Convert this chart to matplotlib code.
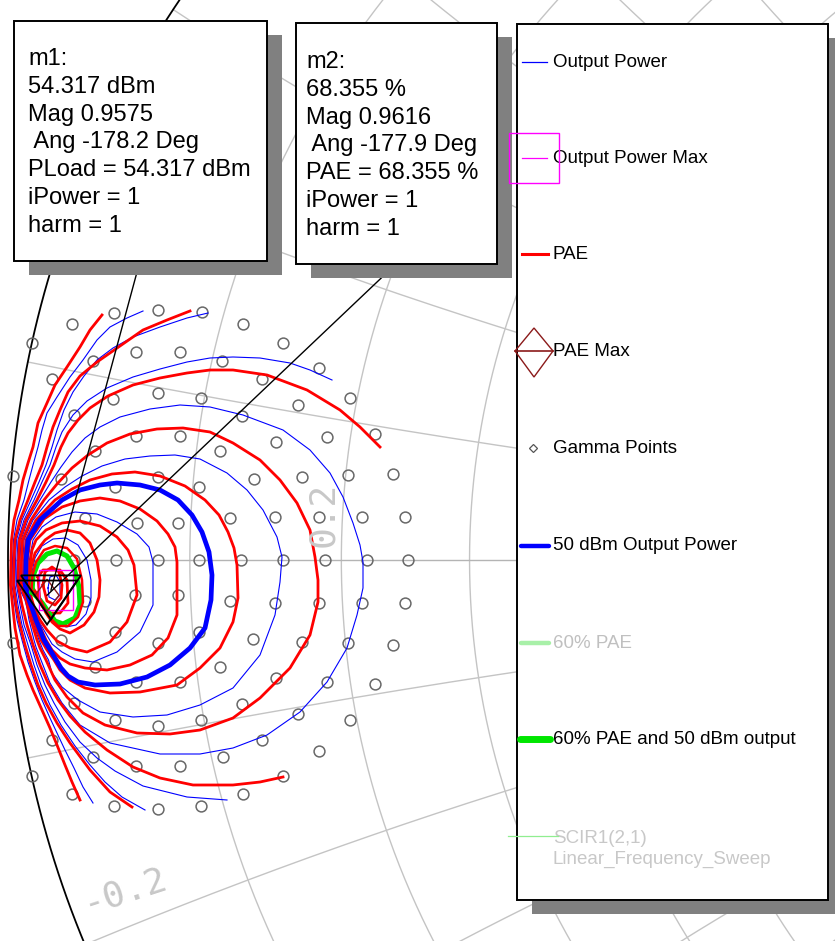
import numpy as np
import matplotlib
matplotlib.use("Agg")
import matplotlib.pyplot as plt
from matplotlib.patches import Rectangle, Polygon

plt.rcParams['font.family'] = ['Liberation Sans', 'DejaVu Sans']

# ---------------- data (reflection coefficient: real, imag) ----------------
r_grid = [0.1, 0.2, 0.3, 0.4, 0.5, 0.6, 0.7, 0.8, 0.9, 1.0]
x_grid = [0.1, 0.2, 0.3, 0.4, 0.5, 0.6, 0.7, 0.8, 0.9, 1.0]

m1_mag, m1_ang = 0.9575, -178.2
m2_mag, m2_ang = 0.9616, -177.9
m1_lines = ['m1:', '54.317 dBm', 'Mag 0.9575', ' Ang -178.2 Deg',
            'PLoad = 54.317 dBm', 'iPower = 1', 'harm = 1']
m2_lines = ['m2:', '68.355 %', 'Mag 0.9616', ' Ang -177.9 Deg',
            'PAE = 68.355 %', 'iPower = 1', 'harm = 1']

gamma_re = [-0.894, -0.850, -0.806, -0.936, -0.765, -0.976, -0.725, -0.872, -0.828,
            -0.915, -0.786, -0.689, -0.956, -0.746, -0.895, -0.850, -0.807, -0.710,
            -0.658, -0.934, -0.766, -0.633, -0.872, -0.828, -0.732, -0.681, -0.913,
            -0.788, -0.995, -0.947, -0.850, -0.754, -0.706, -0.660, -0.615, -0.893,
            -0.809, -0.923, -0.871, -0.830, -0.778, -0.733, -0.689, -0.646, -0.603,
            -0.934, -0.892, -0.850, -0.809, -0.767, -0.725, -0.683, -0.641, -0.600,
            -0.923, -0.873, -0.830, -0.778, -0.733, -0.689, -0.646, -0.603,
            -0.995, -0.947, -0.893, -0.850, -0.809, -0.755, -0.706, -0.660, -0.615,
            -0.913, -0.788, -0.872, -0.828, -0.732, -0.681, -0.633, -0.934, -0.766,
            -0.893, -0.850, -0.807, -0.710, -0.658, -0.956, -0.746, -0.915, -0.785,
            -0.689, -0.872, -0.828, -0.976, -0.725, -0.936, -0.765, -0.894, -0.850, -0.807]
gamma_im = [0.247, 0.250, 0.248, 0.236, 0.236, 0.217, 0.217, 0.208, 0.208,
            0.199, 0.199, 0.192, 0.181, 0.181, 0.161, 0.167, 0.162, 0.155,
            0.162, 0.145, 0.144, 0.126, 0.124, 0.124, 0.118, 0.123, 0.109,
            0.109, 0.084, 0.081, 0.083, 0.081, 0.083, 0.085, 0.086, 0.073,
            0.073, 0.042, 0.037, 0.037, 0.042, 0.043, 0.043, 0.043, 0.043,
            0.0, 0.0, 0.0, 0.0, 0.0, 0.0, 0.0, 0.0, 0.0,
            -0.041, -0.035, -0.035, -0.041, -0.043, -0.043, -0.043, -0.043,
            -0.083, -0.080, -0.072, -0.083, -0.072, -0.079, -0.082, -0.083, -0.085,
            -0.107, -0.107, -0.122, -0.122, -0.118, -0.122, -0.124, -0.143, -0.144,
            -0.160, -0.166, -0.160, -0.154, -0.160, -0.180, -0.180, -0.197, -0.197,
            -0.191, -0.206, -0.206, -0.216, -0.216, -0.234, -0.234, -0.246, -0.249, -0.246]

# open contours (cut by the edge of the swept region)
pae_open1 = [(-0.906, 0.245), (-0.918, 0.230), (-0.928, 0.213), (-0.941, 0.193), (-0.953, 0.175),
             (-0.961, 0.157), (-0.970, 0.137), (-0.975, 0.113), (-0.980, 0.097), (-0.985, 0.080),
             (-0.989, 0.060), (-0.994, 0.040), (-0.9965, 0.020), (-0.997, 0.000), (-0.9975, -0.025),
             (-0.996, -0.040), (-0.993, -0.068), (-0.988, -0.095), (-0.981, -0.115), (-0.975, -0.130),
             (-0.966, -0.150), (-0.958, -0.168), (-0.951, -0.185), (-0.943, -0.205), (-0.936, -0.222),
             (-0.928, -0.240)]
pwr_open1 = [(-0.865, 0.249), (-0.881, 0.242), (-0.898, 0.233), (-0.911, 0.220), (-0.925, 0.200),
             (-0.938, 0.183), (-0.951, 0.163), (-0.961, 0.147), (-0.966, 0.130), (-0.970, 0.113),
             (-0.975, 0.095), (-0.979, 0.080), (-0.984, 0.060), (-0.991, 0.040), (-0.9945, 0.020),
             (-0.9955, 0.000), (-0.996, -0.025), (-0.994, -0.040), (-0.991, -0.060), (-0.986, -0.080),
             (-0.980, -0.102), (-0.973, -0.122), (-0.966, -0.140), (-0.958, -0.158), (-0.951, -0.173),
             (-0.943, -0.190), (-0.934, -0.208), (-0.925, -0.227), (-0.915, -0.243)]
pae_open2 = [(-0.818, 0.249), (-0.841, 0.240), (-0.865, 0.230), (-0.888, 0.214), (-0.911, 0.198),
             (-0.928, 0.184), (-0.940, 0.168), (-0.948, 0.150), (-0.955, 0.133), (-0.961, 0.113),
             (-0.966, 0.095), (-0.973, 0.078), (-0.980, 0.060), (-0.988, 0.040), (-0.993, 0.020),
             (-0.994, 0.000), (-0.9945, -0.025), (-0.992, -0.045), (-0.988, -0.065), (-0.983, -0.085),
             (-0.977, -0.105), (-0.970, -0.125), (-0.962, -0.143), (-0.951, -0.163), (-0.938, -0.183),
             (-0.918, -0.210), (-0.898, -0.232), (-0.876, -0.247)]
pwr_open2 = [(-0.800, 0.247), (-0.821, 0.242), (-0.848, 0.233), (-0.875, 0.223), (-0.895, 0.212),
             (-0.911, 0.200), (-0.924, 0.184), (-0.935, 0.168), (-0.944, 0.150), (-0.951, 0.130),
             (-0.956, 0.113), (-0.962, 0.095), (-0.969, 0.078), (-0.977, 0.060), (-0.986, 0.040),
             (-0.9915, 0.020), (-0.9925, 0.000), (-0.993, -0.025), (-0.990, -0.045), (-0.986, -0.065),
             (-0.980, -0.085), (-0.974, -0.105), (-0.967, -0.125), (-0.958, -0.145), (-0.947, -0.165),
             (-0.933, -0.186), (-0.918, -0.205), (-0.903, -0.222), (-0.886, -0.237), (-0.863, -0.250)]
pwr_open3 = [(-0.676, 0.180), (-0.698, 0.190), (-0.718, 0.197), (-0.748, 0.202), (-0.775, 0.203),
             (-0.798, 0.202), (-0.821, 0.198), (-0.848, 0.191), (-0.875, 0.183), (-0.901, 0.172),
             (-0.921, 0.159), (-0.935, 0.145), (-0.946, 0.128), (-0.952, 0.113), (-0.958, 0.095),
             (-0.966, 0.078), (-0.974, 0.060), (-0.984, 0.040), (-0.990, 0.020), (-0.991, 0.000),
             (-0.9915, -0.025), (-0.988, -0.045), (-0.984, -0.065), (-0.977, -0.085), (-0.971, -0.105),
             (-0.963, -0.125), (-0.954, -0.143), (-0.943, -0.162), (-0.928, -0.182), (-0.911, -0.198),
             (-0.893, -0.211), (-0.865, -0.226), (-0.821, -0.237), (-0.781, -0.240)]
pae_open3 = [(-0.628, 0.113), (-0.648, 0.133), (-0.668, 0.150), (-0.701, 0.170), (-0.741, 0.185),
             (-0.775, 0.190), (-0.798, 0.190), (-0.821, 0.187), (-0.848, 0.182), (-0.875, 0.175),
             (-0.900, 0.164), (-0.918, 0.152), (-0.930, 0.140), (-0.940, 0.127), (-0.947, 0.113),
             (-0.954, 0.095), (-0.962, 0.078), (-0.971, 0.060), (-0.982, 0.040), (-0.9885, 0.020),
             (-0.9895, 0.000), (-0.990, -0.025), (-0.986, -0.045), (-0.981, -0.065), (-0.975, -0.085),
             (-0.968, -0.105), (-0.960, -0.123), (-0.950, -0.140), (-0.938, -0.156), (-0.923, -0.172),
             (-0.901, -0.190), (-0.875, -0.207), (-0.848, -0.218), (-0.815, -0.225), (-0.775, -0.225),
             (-0.748, -0.222), (-0.725, -0.217)]

# closed contours around the optimum
pwr_j = [(-0.9885, -0.025), (-0.988, 0.000), (-0.987, 0.020), (-0.980, 0.040), (-0.968, 0.060),
         (-0.957, 0.078), (-0.947, 0.093), (-0.936, 0.108), (-0.923, 0.122), (-0.908, 0.133),
         (-0.888, 0.143), (-0.858, 0.151), (-0.828, 0.155), (-0.798, 0.153), (-0.765, 0.145),
         (-0.725, 0.130), (-0.698, 0.110), (-0.678, 0.087), (-0.665, 0.063), (-0.655, 0.037),
         (-0.648, 0.015), (-0.645, -0.002), (-0.645, -0.028), (-0.651, -0.055), (-0.661, -0.088),
         (-0.681, -0.122), (-0.708, -0.152), (-0.741, -0.175), (-0.775, -0.188), (-0.808, -0.194),
         (-0.848, -0.194), (-0.898, -0.183), (-0.928, -0.165), (-0.946, -0.143), (-0.958, -0.123),
         (-0.967, -0.100), (-0.972, -0.087), (-0.974, -0.080), (-0.9765, -0.070), (-0.979, -0.060),
         (-0.981, -0.048), (-0.983, -0.040), (-0.987, -0.032)]
pae_i = [(-0.987, -0.025), (-0.9865, 0.000), (-0.9855, 0.020), (-0.977, 0.040), (-0.964, 0.060),
         (-0.951, 0.076), (-0.936, 0.092), (-0.920, 0.105), (-0.901, 0.117), (-0.878, 0.126),
         (-0.851, 0.131), (-0.825, 0.132), (-0.798, 0.128), (-0.775, 0.117), (-0.748, 0.100),
         (-0.728, 0.080), (-0.711, 0.057), (-0.698, 0.030), (-0.693, 0.003), (-0.690, -0.020),
         (-0.690, -0.042), (-0.698, -0.075), (-0.718, -0.108), (-0.748, -0.138), (-0.775, -0.158),
         (-0.808, -0.170), (-0.838, -0.174), (-0.871, -0.173), (-0.903, -0.165), (-0.925, -0.153),
         (-0.941, -0.137), (-0.953, -0.120), (-0.962, -0.100), (-0.968, -0.088), (-0.971, -0.080),
         (-0.974, -0.070), (-0.977, -0.060), (-0.980, -0.048), (-0.982, -0.040), (-0.985, -0.032)]
pwr_h = [(-0.9855, -0.025), (-0.985, 0.000), (-0.984, 0.020), (-0.975, 0.040), (-0.959, 0.060),
         (-0.943, 0.073), (-0.926, 0.084), (-0.906, 0.094), (-0.883, 0.101), (-0.858, 0.104),
         (-0.833, 0.105), (-0.808, 0.101), (-0.781, 0.087), (-0.761, 0.070), (-0.745, 0.050),
         (-0.731, 0.023), (-0.726, 0.003), (-0.728, -0.022), (-0.733, -0.055), (-0.748, -0.095),
         (-0.775, -0.128), (-0.808, -0.145), (-0.841, -0.155), (-0.875, -0.157), (-0.908, -0.152),
         (-0.930, -0.140), (-0.946, -0.127), (-0.956, -0.113), (-0.9595, -0.100), (-0.965, -0.090),
         (-0.969, -0.080), (-0.9725, -0.070), (-0.9755, -0.060), (-0.979, -0.048), (-0.981, -0.040),
         (-0.9835, -0.032)]
pae_g = [(-0.984, -0.025), (-0.9835, 0.000), (-0.982, 0.020), (-0.972, 0.040), (-0.953, 0.060),
         (-0.936, 0.071), (-0.918, 0.080), (-0.896, 0.086), (-0.873, 0.088), (-0.848, 0.084),
         (-0.823, 0.074), (-0.803, 0.060), (-0.789, 0.045), (-0.780, 0.028), (-0.774, 0.012),
         (-0.771, -0.005), (-0.770, -0.038), (-0.775, -0.062), (-0.788, -0.088), (-0.808, -0.108),
         (-0.831, -0.125), (-0.868, -0.132), (-0.898, -0.133), (-0.923, -0.128), (-0.938, -0.120),
         (-0.948, -0.110), (-0.954, -0.100), (-0.961, -0.090), (-0.967, -0.080), (-0.971, -0.070),
         (-0.974, -0.060), (-0.978, -0.048), (-0.980, -0.040), (-0.9825, -0.032)]
pwr_50dbm = [(-0.9825, -0.025), (-0.982, 0.000), (-0.980, 0.020), (-0.968, 0.040), (-0.946, 0.060),
             (-0.928, 0.070), (-0.908, 0.075), (-0.891, 0.077), (-0.868, 0.075), (-0.848, 0.070),
             (-0.830, 0.060), (-0.816, 0.045), (-0.806, 0.028), (-0.799, 0.008), (-0.796, -0.015),
             (-0.797, -0.040), (-0.803, -0.068), (-0.818, -0.088), (-0.838, -0.105), (-0.861, -0.117),
             (-0.888, -0.124), (-0.913, -0.125), (-0.930, -0.122), (-0.940, -0.116), (-0.947, -0.108),
             (-0.953, -0.098), (-0.959, -0.088), (-0.964, -0.080), (-0.968, -0.070), (-0.972, -0.060),
             (-0.976, -0.048), (-0.979, -0.040), (-0.981, -0.032)]
pae_e = [(-0.981, -0.025), (-0.9805, 0.000), (-0.978, 0.020), (-0.964, 0.041), (-0.946, 0.053),
         (-0.928, 0.059), (-0.908, 0.062), (-0.888, 0.059), (-0.868, 0.051), (-0.851, 0.039),
         (-0.840, 0.026), (-0.833, 0.013), (-0.831, -0.002), (-0.831, -0.028), (-0.831, -0.055),
         (-0.840, -0.078), (-0.856, -0.095), (-0.878, -0.105), (-0.901, -0.110), (-0.923, -0.108),
         (-0.938, -0.104), (-0.948, -0.098), (-0.956, -0.090), (-0.962, -0.080), (-0.9665, -0.070),
         (-0.9705, -0.060), (-0.975, -0.048), (-0.9775, -0.040), (-0.980, -0.032)]
pwr_d = [(-0.9795, -0.025), (-0.979, -0.002), (-0.975, 0.020), (-0.966, 0.033), (-0.952, 0.043),
         (-0.933, 0.048), (-0.911, 0.046), (-0.891, 0.038), (-0.871, 0.026), (-0.859, 0.013),
         (-0.855, -0.002), (-0.855, -0.022), (-0.855, -0.045), (-0.868, -0.072), (-0.891, -0.092),
         (-0.915, -0.102), (-0.933, -0.099), (-0.946, -0.092), (-0.956, -0.084), (-0.963, -0.072),
         (-0.970, -0.060), (-0.974, -0.050), (-0.9765, -0.040), (-0.979, -0.032)]
pae_c = [(-0.9785, -0.025), (-0.978, -0.005), (-0.976, 0.010), (-0.972, 0.020), (-0.962, 0.030),
         (-0.946, 0.037), (-0.928, 0.039), (-0.908, 0.034), (-0.891, 0.023), (-0.880, 0.010),
         (-0.874, -0.005), (-0.871, -0.035), (-0.881, -0.062), (-0.898, -0.082), (-0.921, -0.092),
         (-0.938, -0.088), (-0.951, -0.081), (-0.961, -0.070), (-0.968, -0.060), (-0.973, -0.050),
         (-0.976, -0.040), (-0.978, -0.032)]
pae_b = [(-0.9775, -0.025), (-0.977, -0.008), (-0.973, 0.007), (-0.963, 0.020), (-0.953, 0.027),
         (-0.941, 0.030), (-0.928, 0.027), (-0.918, 0.017), (-0.911, 0.000), (-0.908, -0.020),
         (-0.909, -0.037), (-0.914, -0.052), (-0.924, -0.065), (-0.938, -0.073), (-0.948, -0.069),
         (-0.956, -0.062), (-0.962, -0.053), (-0.967, -0.043), (-0.971, -0.034), (-0.975, -0.028)]
pwr_b = [(-0.977, -0.028), (-0.976, -0.012), (-0.973, 0.002), (-0.966, 0.014), (-0.955, 0.021),
         (-0.942, 0.022), (-0.930, 0.015), (-0.921, 0.000), (-0.917, -0.020), (-0.917, -0.038),
         (-0.922, -0.054), (-0.932, -0.065), (-0.942, -0.067), (-0.950, -0.062), (-0.957, -0.054),
         (-0.963, -0.045), (-0.968, -0.037), (-0.973, -0.031)]
pae_a = [(-0.9765, -0.030), (-0.9755, -0.015), (-0.972, -0.002), (-0.964, 0.010), (-0.953, 0.014),
         (-0.941, 0.012), (-0.931, 0.001), (-0.926, -0.020), (-0.925, -0.042), (-0.930, -0.057),
         (-0.940, -0.066), (-0.950, -0.066), (-0.956, -0.060), (-0.962, -0.051), (-0.967, -0.041),
         (-0.972, -0.033)]
pae60_pwr50 = [(-0.976, -0.032), (-0.975, -0.016), (-0.970, -0.003), (-0.961, 0.006), (-0.951, 0.009),
               (-0.941, 0.004), (-0.934, -0.008), (-0.929, -0.027), (-0.928, -0.045), (-0.933, -0.058),
               (-0.945, -0.064), (-0.953, -0.061), (-0.959, -0.053), (-0.965, -0.044), (-0.971, -0.037)]
pae_in1 = [(-0.970, -0.017), (-0.965, -0.010), (-0.948, -0.010), (-0.941, -0.020), (-0.940, -0.043),
           (-0.948, -0.053), (-0.961, -0.053), (-0.968, -0.043)]
pae_in2 = [(-0.965, -0.025), (-0.963, -0.012), (-0.956, -0.007), (-0.949, -0.012), (-0.946, -0.025),
           (-0.947, -0.038), (-0.953, -0.045), (-0.961, -0.041)]
pwr_in = [(-0.960, -0.028), (-0.958, -0.017), (-0.952, -0.015), (-0.948, -0.022), (-0.948, -0.035),
          (-0.953, -0.040), (-0.959, -0.037)]

legend_labels = ['Output Power', 'Output Power Max', 'PAE', 'PAE Max', 'Gamma Points',
                 '50 dBm Output Power', '60% PAE', '60% PAE and 50 dBm output',
                 'SCIR1(2,1)\nLinear_Frequency_Sweep']

# ---------------- figure ----------------
fig = plt.figure(figsize=(8.35, 9.41), dpi=100)
ax = fig.add_axes([0, 0, 1, 1])
ax.set_xlim(-1.008, -0.173)
ax.set_ylim(-0.381, 0.560)
ax.axis('off')

grid_c = '#c4c4c4'
t = np.linspace(0, 2 * np.pi, 1441)
for r in r_grid:
    c, rad = r / (1 + r), 1 / (1 + r)
    ax.plot(c + rad * np.cos(t), rad * np.sin(t), color=grid_c, lw=1.0, zorder=1)
rr = np.concatenate([np.linspace(0, 4, 1500), np.geomspace(4, 5000, 600)])
for x in x_grid:
    for s in (1, -1):
        g = (rr + 1j * s * x - 1) / (rr + 1j * s * x + 1)
        ax.plot(g.real, g.imag, color=grid_c, lw=1.0, zorder=1)
ax.plot([-1, 1], [0, 0], color='#b4b4b4', lw=1.0, zorder=1)
ax.plot(np.cos(t), np.sin(t), color='black', lw=1.3, zorder=2)

ax.plot(gamma_re, gamma_im, 'o', ms=7.8, mfc='none', mec='#686868', mew=1.1, zorder=2)


def trace(pts, color, lw, closed=False, z=3):
    xs = [p[0] for p in pts]
    ys = [p[1] for p in pts]
    if closed:
        xs.append(xs[0])
        ys.append(ys[0])
    ax.plot(xs, ys, color=color, lw=lw, zorder=z, solid_joinstyle='round')


blue, red = '#0000ff', '#ff0000'
for c in [pwr_open1, pwr_open2, pwr_open3]:
    trace(c, blue, 0.8)
for c in [pwr_j, pwr_h, pwr_d, pwr_b, pwr_in]:
    trace(c, blue, 0.8, closed=True)
for c in [pae_open1, pae_open2, pae_open3]:
    trace(c, red, 2.0, z=4)
for c in [pae_i, pae_g, pae_e, pae_c, pae_b, pae_in1, pae_in2]:
    trace(c, red, 2.0, closed=True, z=4)
trace(pwr_50dbm, blue, 3.4, closed=True, z=5)
trace(pae60_pwr50, '#00e600', 3.6, closed=True, z=5)
trace(pae_a, red, 1.8, closed=True, z=5)

# ---------------- overlay in pixel units ----------------
ov = fig.add_axes([0, 0, 1, 1], facecolor='none')
ov.set_xlim(0, 835)
ov.set_ylim(941, 0)
ov.axis('off')


def to_px(mag, ang):
    a = np.deg2rad(ang)
    d = ax.transData.transform((mag * np.cos(a), mag * np.sin(a)))
    return ov.transData.inverted().transform(d)


p1 = to_px(m1_mag, m1_ang)
p2 = to_px(m2_mag, m2_ang)

# markers
ov.add_patch(Rectangle((p1[0] - 12, p1[1] - 20), 34, 40, fill=False, ec='#ff00ff', lw=1.0, zorder=6))
ov.add_patch(Polygon([(p2[0] - 12, p2[1]), (p2[0], p2[1] - 16), (p2[0] + 12, p2[1]), (p2[0], p2[1] + 16)],
                     closed=True, fill=False, ec='#8b1a1a', lw=1.0, zorder=6))
for p in (p1, p2):
    ov.add_patch(Polygon([(p[0] - 30, p[1] - 14.7), (p[0] + 30, p[1] - 14.7), (p[0], p[1] + 29.3)],
                         closed=True, fill=False, ec='black', lw=1.3, zorder=7))
ov.plot([140, p1[0]], [261, p1[1]], color='black', lw=1.0, zorder=7)
ov.plot([396, p2[0]], [264, p2[1]], color='black', lw=1.0, zorder=7)

# grid labels
ov.text(323, 514, '0.2', rotation=90, ha='center', va='center', fontsize=26,
        family='DejaVu Sans Mono', color='#c8c8c8', zorder=3)
ov.text(125, 891, '-0.2', rotation=18, ha='center', va='center', fontsize=26,
        family='DejaVu Sans Mono', color='#c8c8c8', zorder=3)


def box(x0, y0, x1, y1):
    ov.add_patch(Rectangle((x0 + 15, y0 + 14), x1 - x0, y1 - y0, fc='#808080', ec='none', zorder=10))
    ov.add_patch(Rectangle((x0, y0), x1 - x0, y1 - y0, fc='white', ec='black', lw=1.4, zorder=11))


box(14, 21, 267, 261)
for i, s in enumerate(m1_lines):
    ov.text(28, 65 + 27.8 * i, s, fontsize=17, va='baseline', ha='left', zorder=12)
box(296, 23, 497, 264)
for i, s in enumerate(m2_lines):
    ov.text(306, 68 + 27.8 * i, s, fontsize=17, va='baseline', ha='left', zorder=12)

# legend
box(517, 24, 828, 900)
ly = [62, 158, 254, 351, 448, 546, 643, 739, 849]
lcol = ['black', 'black', 'black', 'black', 'black', 'black', '#c0c0c0', 'black', '#c8c8c8']
for y, s, c in zip(ly, legend_labels, lcol):
    ov.text(553, y, s, fontsize=13.5, va='center', ha='left', color=c, zorder=12,
            linespacing=1.25)
z = 13
ov.plot([522, 547], [62, 62], color=blue, lw=0.9, zorder=z)
ov.plot([522, 547], [158, 158], color='#ff00ff', lw=0.9, zorder=z)
ov.add_patch(Rectangle((509, 133), 50, 50, fill=False, ec='#ff00ff', lw=1.0, zorder=z))
ov.plot([522, 548], [254, 254], color=red, lw=2.2, zorder=z)
ov.plot([515, 553], [351, 351], color='#8b1a1a', lw=1.2, zorder=z)
ov.add_patch(Polygon([(515, 351), (534, 328), (553, 351), (534, 377)], closed=True,
                     fill=False, ec='#8b1a1a', lw=1.0, zorder=z))
ov.plot([533], [448], 'D', ms=4.5, mfc='none', mec='#555555', mew=0.9, zorder=z)
ov.plot([521, 549], [546, 546], color=blue, lw=3.2, solid_capstyle='round', zorder=z)
ov.plot([521, 549], [643, 643], color='#a8f0a8', lw=3.2, solid_capstyle='round', zorder=z)
ov.plot([520, 550], [739, 739], color='#00e600', lw=5, solid_capstyle='round', zorder=z)
ov.plot([508, 558], [836, 836], color='#90ee90', lw=0.9, zorder=z)

fig.savefig('out.png', dpi=100)
